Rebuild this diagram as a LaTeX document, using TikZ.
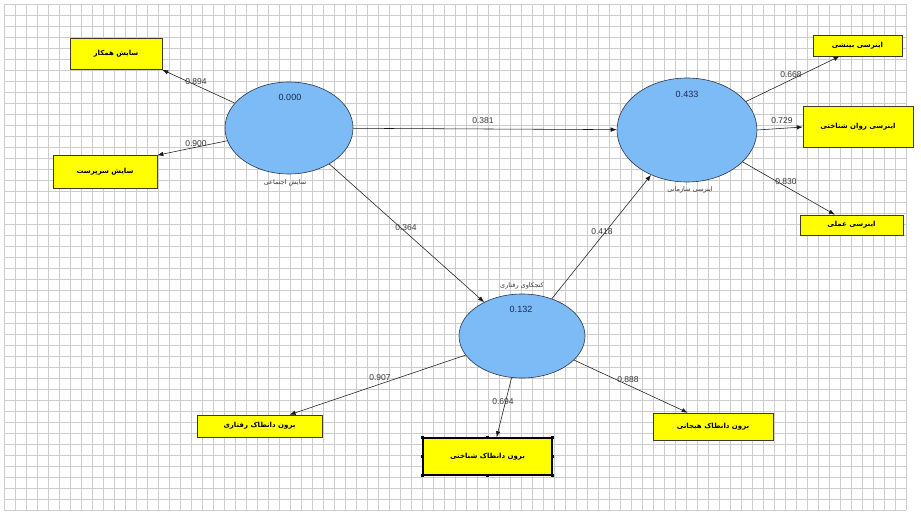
\documentclass[tikz,border=0pt]{standalone}
\usepackage{fontspec}
\setmainfont{Liberation Sans}
\newfontfamily\arabicfont[Script=Arabic]{DejaVu Sans}
\TeXXeTstate=1
\usetikzlibrary{arrows.meta,shapes.geometric,calc}
\definecolor{gridc}{RGB}{205,205,205}
\definecolor{ellfill}{RGB}{125,187,246}
\definecolor{elldraw}{RGB}{45,55,75}
\definecolor{boxfill}{RGB}{255,255,0}
\definecolor{boxdraw}{RGB}{60,60,40}
\definecolor{numc}{RGB}{55,55,55}
\definecolor{valc}{RGB}{30,40,80}
\tikzset{
  latent/.style={ellipse,draw=elldraw,fill=ellfill,line width=0.6pt,inner sep=0pt},
  indic/.style={draw=boxdraw,fill=boxfill,line width=0.6pt,inner sep=0pt,
    font=\arabicfont\bfseries\fontsize{7}{8}\selectfont},
  arr/.style={draw=black!90,line width=0.55pt,-{Latex[length=6pt,width=4.5pt]}},
  num/.style={font=\fontsize{8.5}{9}\selectfont,text=numc,inner sep=0pt},
  val/.style={font=\fontsize{9}{10}\selectfont,text=valc,inner sep=0pt},
  elab/.style={font=\arabicfont\fontsize{6.5}{7}\selectfont,text=numc,inner sep=0pt},
  handle/.style={fill=black,minimum size=3pt,inner sep=0pt}
}
\begin{document}
\begin{tikzpicture}[x=1pt,y=-1pt]
\useasboundingbox (0,0) rectangle (921,521);
\fill[white] (0,0) rectangle (921,521);
% grid
\foreach \gx in {4,15,...,910} {\draw[gridc,line width=0.45pt] (\gx,4) -- (\gx,510);}
\foreach \gy in {4,15,...,510} {\draw[gridc,line width=0.45pt] (4,\gy) -- (906,\gy);}
% latent variables
\node[latent,minimum width=128pt,minimum height=92pt] (e1) at (289,128) {};
\node[latent,minimum width=140pt,minimum height=104pt] (e2) at (687,130) {};
\node[latent,minimum width=126pt,minimum height=84pt] (e3) at (522,336) {};
\node[val] (v1) at (290,97) {0.000};
\node[val] (v2) at (687,94) {0.433};
\node[val] (v3) at (521,309) {0.132};
\node[elab] (t1) at (285,183) {\beginR سایش اجتماعی\endR};
\node[elab] (t2) at (690,190) {\beginR اینرسی سازمانی\endR};
\node[elab] (t3) at (522,286) {\beginR کنجکاوی رفتاری\endR};
% indicators
\node[indic,minimum width=92pt,minimum height=31pt] (b1) at (116,54) {\beginR سایش همکار\endR};
\node[indic,minimum width=104pt,minimum height=33pt] (b2) at (105,172) {\beginR سایش سرپرست\endR};
\node[indic,minimum width=89pt,minimum height=21pt] (b3) at (857.5,45.5) {\beginR اینرسی بینشی\endR};
\node[indic,minimum width=110pt,minimum height=41pt] (b4) at (858,127) {\beginR اینرسی روان شناختی\endR};
\node[indic,minimum width=103pt,minimum height=20pt] (b5) at (851.5,225) {\beginR اینرسی عملی\endR};
\node[indic,minimum width=125pt,minimum height=22pt] (b6) at (259.5,426) {\beginR برون دانطاک رفتاری\endR};
\node[indic,line width=1.6pt,draw=black,minimum width=129pt,minimum height=37pt] (b7) at (487.5,456.5) {\beginR برون دانطاک شناختی\endR};
\node[indic,minimum width=120pt,minimum height=27pt] (b8) at (713,426.5) {\beginR برون دانطاک هیجانی\endR};
% selection handles on b7
\foreach \a in {north west,north,north east,east,south east,south,south west,west}
  {\node[handle] at (b7.\a) {};}
% connectors
\draw[arr] (e1) -- (b1.south east);
\draw[arr] (e1) -- (b2.north east);
\draw[arr] (e1) -- (e2);
\draw[arr] (e1) -- (e3);
\draw[arr] (e3) -- (e2);
\draw[arr] (e2) -- ($(b3.south west)!0.3!(b3.south east)$);
\draw[arr] (e2.east) -- (b4.west);
\draw[arr] (e2) -- ($(b5.north west)!0.34!(b5.north east)$);
\draw[arr] (e3) -- ($(b6.north west)!0.74!(b6.north east)$);
\draw[arr] (e3) -- ($(b7.north west)!0.57!(b7.north east)$);
\draw[arr] (e3) -- ($(b8.north west)!0.29!(b8.north east)$);
% path coefficients
\node[num] (n1) at (196,82) {0.894};
\node[num] (n2) at (196,144) {0.900};
\node[num] (n3) at (483,121) {0.381};
\node[num] (n4) at (406,228) {0.364};
\node[num] (n5) at (602,232) {0.418};
\node[num] (n6) at (791,75) {0.668};
\node[num] (n7) at (782,121) {0.729};
\node[num] (n8) at (786,182) {0.830};
\node[num] (n9) at (380,378) {0.907};
\node[num] (n10) at (503,402) {0.694};
\node[num] (n11) at (628,380) {0.888};
\end{tikzpicture}
\end{document}
